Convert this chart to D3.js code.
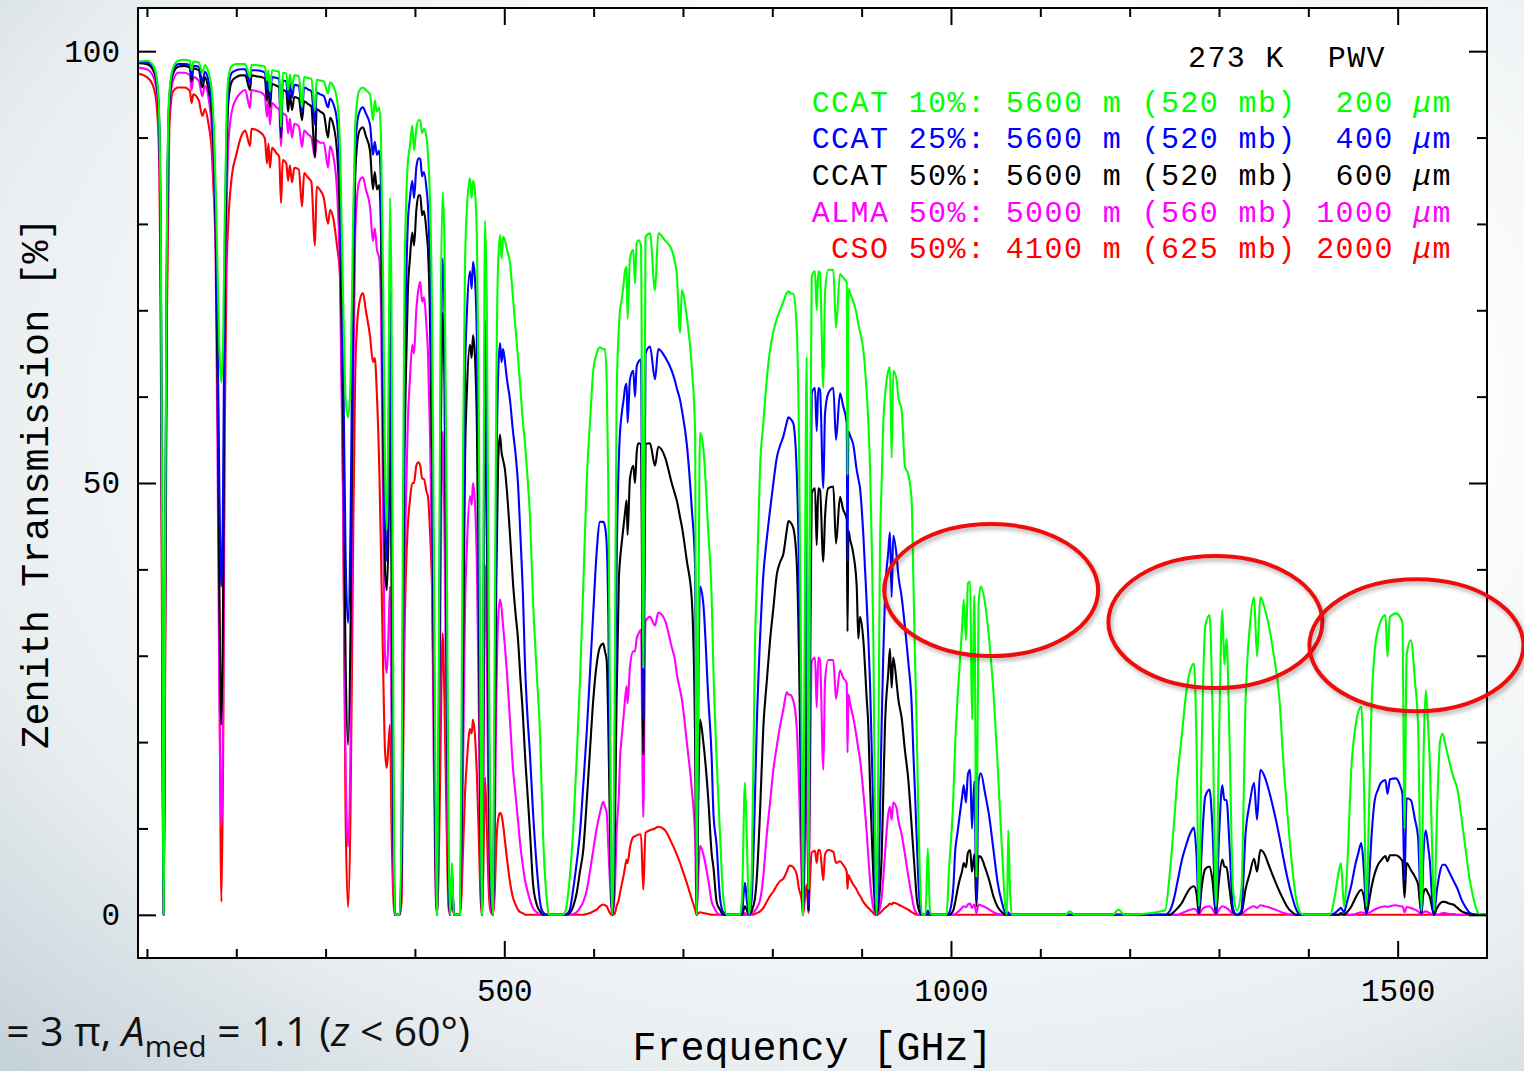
<!DOCTYPE html>
<html>
<head>
<meta charset="utf-8">
<script src="https://cdn.jsdelivr.net/npm/d3@7"></script>
<style>
  html, body { margin: 0; padding: 0; overflow: hidden; background: #fff; }
  svg { display: block; }
</style>
</head>
<body>
<svg id="chart" width="1524" height="1071"></svg>
<script>
// Frequency grid (GHz) shared by all five transmission curves
const freqGHz = [
  90, 100, 106, 110, 113, 115.5, 117, 118.75, 120.5, 122.5, 125, 129,
  135, 142, 148, 150, 152, 158, 162, 165, 169, 172.5, 175, 177, 179, 181, 183.3, 185.5, 187, 189, 191,
  195, 200, 205, 210, 215.4, 217, 222, 228, 232, 234.4, 236, 237.7, 240, 245, 248, 250.1, 252,
  256, 258, 260, 262.4, 265, 270, 273.6, 276, 280, 284, 288.1, 290, 294, 298, 302.7, 305, 308.3, 312.7,
  316.1, 319.5, 322.3, 325.15, 327.9, 330.7, 333, 335.1, 338, 341.8, 345, 349.7, 353, 355, 357.5,
  360, 362, 364.5, 366.5, 368.5, 370.5, 372.1, 373.8, 375.8, 377.5, 383, 385,
  386.5, 388, 390, 392, 394.4, 397, 399, 401.5, 404, 406, 408, 410, 413, 414.6, 417, 419.1, 421, 423, 424.7,
  426.5, 428.5, 431, 433, 435.5, 437.5, 439.2, 441.5, 443.5, 450.4,
  452, 454, 456, 458.3, 461.6, 463.5, 465, 467, 469.4, 471.5, 473, 475, 476.5, 478.4, 480.5, 482.5, 484.5, 487.3,
  489.5, 491, 493, 495.2, 497, 498.6, 500.8, 503, 506.4, 509.7, 512.5, 515.3, 518, 520.9, 523.2, 525.4, 528.8, 532.1, 536.3, 540, 543.3, 547.8, 550,
  565, 568, 573, 577.2, 581, 584.7, 588.4, 592.2, 595.9, 599.6, 603.4, 607.1, 610.8, 612.7, 614.6, 616.4, 618.3, 620.7, 622,
  623.9, 625.7, 628.3, 629.5, 631.4, 634, 635.1, 637, 638, 640.7, 644.4, 646.3, 648.2, 650, 653, 655.6, 658.1, 663.1, 668.7, 672.4, 679.9, 687.4, 691.1, 693, 696.8, 698.7, 704.3, 709.9, 713.6, 715.3,
  717.4, 719.1, 722.8, 728.4, 732.2, 734, 737.7, 741.4, 745.1, 749.3, 764, 766.1, 769.4, 771.7, 774,
  777, 780.7, 782.6, 786.3, 790, 793.8, 797.5, 801.2, 805, 808.6, 812.4, 816.2, 818, 819.8, 823.5, 827.3, 829.9, 832.9, 834.3,
  836.6, 838.5, 840.5, 842.2, 844.1, 847.8, 849.7, 851.5, 853.4, 857.1, 859, 862.7, 868.3, 871.3, 875.8, 879.1, 883.3, 884.2, 885.2, 887, 890.7, 894.5, 896.3, 898.2, 901.9, 905.7, 907.5, 909.4, 911.3, 913.1, 915, 916.8,
  918.8, 920.5, 922.4, 924.2, 926.1, 929.8, 931.7, 933.6, 935.4, 939.2, 941, 944.8, 948.5, 952.2, 956, 957.8, 959.7, 961.6, 963.4, 965.3, 967.5, 971.5, 974, 976.5, 979,
  995, 997.7, 1002.5, 1004.8, 1007.3, 1009.6, 1012.3, 1014.3, 1016.8, 1019, 1021.5, 1023.5, 1026.2, 1028.5, 1030.9, 1033.4, 1038.1, 1042.8, 1047.6, 1052.3, 1057.1, 1060.8, 1062.7, 1064.1, 1066, 1068.3,
  1128, 1133, 1138.5, 1181, 1187.5, 1194, 1239.5,
  1245.1, 1249.2, 1253.9, 1258.6, 1263, 1268.1, 1272, 1274.8, 1277.6, 1280.4, 1284.6, 1289.5, 1292.7, 1296.6, 1300, 1303.7, 1306, 1308.4, 1311.8, 1315.7, 1320.1,
  1325.1, 1329.8, 1334.5, 1339.2, 1342.6, 1346.3, 1351.1, 1354.8, 1360.4, 1367.7, 1372.4, 1377.2, 1381.9, 1386.1, 1391.4, 1395,
  1424.2, 1429.4, 1434.1, 1436.5, 1439.9, 1443.3, 1448.3, 1453, 1455.6, 1459.3, 1462.3, 1465, 1467.9, 1470.7, 1474.4, 1478, 1481.4, 1486.3, 1488.6, 1491.4, 1498.1, 1502.6, 1505.3, 1507.7, 1510, 1514.7, 1519.4, 1522.8, 1526.6, 1528.9, 1531.4, 1534, 1536.2, 1538.5, 1540.7, 1544.1, 1547.4, 1550.3, 1552.7, 1557.5, 1562.2, 1567, 1571.7, 1576.5, 1579.9, 1583.6, 1587.8, 1592.2, 1600
];

// Zenith transmission [%] — CCAT 10% (200 um PWV)
const ccat10 = [
  98.8, 98.9, 98.5, 97.5, 94.5, 80, 45, 0, 45, 82, 95, 98,
  98.9, 99, 98.9, 97.8, 98.8, 98.7, 97.5, 98.4, 97.5, 95.5, 91, 84, 75, 66, 61.6, 68, 80, 92, 96.8,
  98.3, 98.5, 98.5, 98.5, 97, 98.4, 98.4, 98.3, 98.2, 96.6, 97.8, 95.3, 97.8, 97.7, 97.6, 91.2, 97.5,
  97.4, 95.5, 97.3, 95.8, 97.2, 97.1, 93.5, 97, 96.9, 96.8, 93.2, 96.7, 96.6, 96.5, 95.1, 96.4, 96, 94.5,
  89, 72, 60, 57.6, 62, 80, 91, 94, 95.5, 95.8, 95.5, 95, 92, 94.3, 93,
  93.5, 90, 72, 52, 44.6, 62, 83, 70, 25, 0, 0, 12,
  45, 70, 82, 87, 89, 91.4, 88.5, 91, 92, 92, 90.5, 91, 90, 88, 82, 70, 45, 15, 0,
  25, 65, 83.7, 78, 45, 10, 0, 6, 0, 0,
  20, 55, 75, 82, 85.3, 83, 85, 84, 78, 58, 30, 0, 35, 80.4, 70, 35, 8, 0,
  35, 60, 75, 78.7, 76, 78.5, 78.1, 77, 75.5, 71.5, 68, 64.6, 61, 57, 54.6, 51.5, 46, 36.5, 28, 21, 9.5, 1.5, 0,
  0, 0.3, 4, 10, 18, 27, 38, 50, 57, 63, 65, 65.7, 65.5, 65.5, 62, 50, 25, 0, 5,
  30, 59.6, 68, 70, 71.2, 73.5, 74.6, 75, 69, 76, 77, 73.1, 77.8, 78.1, 77.5, 28.6, 78.5, 78.9, 72.3, 78.9, 78.1, 77, 75.5, 74.3, 67.4, 72.3, 69.2, 63.4, 55.8, 0,
  35, 55.8, 54, 44.2, 36.5, 28.7, 18, 9.5, 2, 0, 0, 2, 15.3, 8, 0,
  5, 31.8, 38, 51.8, 57, 62, 65.4, 67.5, 69, 70, 71, 72, 72.2, 72, 71.9, 67.9, 55, 20, 0,
  40, 64.6, 3, 45, 73.9, 74.5, 70, 74.5, 74.3, 61, 72, 74.7, 74.7, 68, 74.2, 73.8, 73.2, 50.9, 72.5, 72, 71, 69.5, 68.4, 67.5, 65.4, 60.4, 57, 51.8, 43, 31.8, 10, 0,
  20, 41.8, 50, 56.9, 60, 63, 63.4, 52.9, 63, 61.9, 60, 58.4, 51.9, 51, 47.9, 39.4, 30, 21.8, 12, 4.2, 0, 0, 7.7, 0.5, 0,
  0, 5, 13.3, 20, 25, 28.7, 33, 36.5, 31.8, 38.4, 38.6, 22.6, 37, 4.4, 36, 38, 36.1, 31.8, 25.7, 17.2, 7.5, 1, 0, 9.8, 3, 0,
  0, 0.4, 0, 0, 0.6, 0, 0.5,
  5, 10, 16.4, 21, 25.5, 28.4, 29.1, 20, 1, 18, 33.4, 34.7, 24, 1, 20, 35.3, 29, 32, 20, 3, 0.5,
  3, 24.9, 33.4, 36.8, 29.9, 36.8, 35.5, 34, 30.7, 24.9, 17.2, 11, 5.6, 2, 0.2, 0,
  0, 2, 5, 6, 1, 5, 17.2, 22, 23.4, 24.1, 15, 1, 12, 24, 30.7, 33, 34.1, 34.7, 29.9, 34.5, 34.9, 34.5, 33.8, 10, 30, 31.8, 27, 22, 0.5, 18, 26, 22, 17, 8, 0.5, 12, 20, 21, 20, 17.9, 16, 14.5, 11, 7.2, 4.5, 2.5, 0.8, 0, 0
];

// CCAT 25% (400 um PWV)
const ccat25 = [
  98.7, 98.7, 98.3, 97.2, 94, 78, 42, 0, 42, 80, 94.5, 97.7,
  98.5, 98.5, 98.4, 97, 98.3, 98.2, 96.5, 97.6, 96.5, 94, 89, 81, 68, 50, 38, 52, 75, 89, 95.5,
  97.5, 97.8, 97.9, 97.9, 96.3, 97.8, 97.8, 97.7, 97.5, 95.5, 97.2, 94.5, 97, 96.9, 96.8, 90.5, 96.6,
  96.5, 94.5, 96.3, 94.6, 96.1, 96, 93, 95.8, 95.6, 95.4, 91.5, 95.2, 95, 94.8, 93.5, 94.5, 94, 92,
  85, 66, 42, 33.8, 45, 74, 88, 91.5, 93, 93.5, 92.8, 91.5, 88, 89.5, 88,
  88.5, 84, 62, 46, 41, 52, 72, 50, 15, 0, 0, 8,
  35, 58, 72, 80, 83, 85, 83, 86.5, 87.6, 87.5, 85.5, 86, 84, 82, 74, 60, 35, 10, 0,
  20, 55, 76, 70, 35, 6, 0, 5, 0, 0,
  12, 40, 62, 70, 74.5, 72.5, 75.6, 74, 66, 45, 20, 0, 28, 68.9, 55, 25, 5, 0,
  25, 48, 62, 66.2, 64, 65.5, 64, 62, 59.6, 56, 53.5, 50, 44, 37, 29, 24, 18.5, 12, 5.6, 1.5, 0.3, 0, 0,
  0, 0, 0.5, 3, 6, 9.5, 15, 21, 28, 35, 42, 45.5, 45.5, 45, 43, 35, 15, 0, 2,
  22, 40, 53, 55.8, 58, 60, 61, 61.5, 57, 62, 63, 60, 63.5, 64, 64.3, 22.8, 65, 65.8, 62, 65.5, 64.6, 63, 61.8, 61, 59.6, 58.5, 54.5, 47, 40.3, 0,
  28, 38, 36, 25, 18, 12, 8, 2, 0.3, 0, 0, 0.3, 3.7, 1.5, 0,
  2, 14, 21.8, 32, 39.4, 43.5, 46.9, 50, 52.9, 54.3, 55.4, 57, 57.6, 57.5, 56.9, 51.4, 40, 12, 0,
  25, 45, 1, 35, 60.4, 61, 56, 61, 60.8, 49.4, 58, 60.4, 61, 55, 60.4, 59, 56.9, 40.9, 56, 55.5, 54.4, 51.5, 50.5, 49.4, 44, 36, 32, 26.8, 19, 11.7, 3, 0,
  3, 11.7, 22, 30, 36.8, 42, 44.3, 36.8, 43.9, 41.5, 39.4, 36.8, 33.3, 29.3, 24.3, 19, 14.2, 9, 4.2, 1, 0, 0, 0.5, 0, 0,
  0, 0.2, 3, 7.5, 9.5, 11.4, 13.5, 15, 13, 16.3, 16.8, 10, 15.5, 1.7, 15.5, 16.4, 14.1, 11.4, 7.5, 3.7, 1.4, 0.2, 0, 0.3, 0, 0,
  0, 0, 0, 0, 0, 0, 0,
  0.5, 1.7, 4, 6.4, 8, 9.5, 10.1, 7, 0.3, 7, 13.7, 14.5, 10, 0.3, 9, 15, 13.3, 13.3, 8, 0.7, 0,
  0.5, 9.5, 13, 15.3, 11, 16.8, 16, 14.8, 12.5, 9, 6.4, 4, 2.1, 0.7, 0, 0,
  0, 0.2, 0.6, 0.8, 0.3, 1.5, 3.5, 6, 7, 8.3, 5, 0.3, 4, 9, 13.3, 14.5, 15.3, 15.6, 14, 15.7, 15.8, 15, 14, 4, 13.5, 13.3, 11, 9, 0.2, 7, 9.8, 8, 6, 2, 0.2, 3, 5, 5.8, 5.8, 5, 4, 3, 1.7, 0.8, 0.3, 0.1, 0, 0, 0
];

// CCAT 50% (600 um PWV)
const ccat50 = [
  98.6, 98.5, 98.0, 96.8, 93.5, 76, 40, 0, 40, 78, 94, 97.3,
  98.2, 98.3, 98.1, 96.5, 98, 97.8, 95.8, 97, 95.5, 93, 87, 78.5, 62, 38, 22, 40, 70, 86, 94,
  96.5, 97, 97.2, 97.2, 95.5, 97.2, 97.1, 97, 96.8, 94.3, 96.4, 93.5, 96.2, 96, 95.8, 90, 95.5,
  95.3, 93, 95, 93.2, 94.7, 94.5, 92, 94.2, 93.9, 93.6, 87.7, 93.3, 93, 92.7, 90, 92.3, 91.6, 88.5,
  80, 58, 30, 19.7, 33, 68, 85, 89, 90.8, 91.2, 90.2, 88.5, 84, 86, 84,
  84.5, 79, 55, 40, 37.6, 45, 60, 38, 10, 0, 0, 5,
  28, 50, 63, 72, 76, 79, 77.5, 81.5, 83.3, 83.3, 81, 81.5, 79, 77, 68, 52, 28, 6, 0,
  15, 48, 69.7, 62, 28, 4, 0, 4.5, 0, 0,
  8, 30, 52, 61, 66, 64.5, 67.1, 65, 56, 35, 14, 0, 22, 58.8, 45, 18, 3, 0,
  18, 38, 52, 55.6, 53.5, 52.7, 51.5, 49, 44, 38.5, 35, 32, 27.5, 23, 18.5, 15, 9.5, 3.7, 1.2, 0.4, 0, 0, 0,
  0, 0, 0.2, 1, 2.5, 5, 7.5, 13, 19, 24.9, 29, 31, 31.4, 30.5, 29.5, 22, 10, 0, 1,
  10, 25, 39, 41, 43, 45.5, 46.5, 48, 44, 50.5, 52, 50, 53.5, 54.6, 54.5, 18.6, 54.5, 54.6, 52, 54.2, 53, 50, 48.7, 48, 46, 45, 41, 36.5, 20, 0,
  15, 22.6, 20, 13.3, 7, 5.6, 1.5, 0.6, 0, 0, 0, 0, 1, 0.5, 0,
  0.5, 2, 4.2, 12, 21.8, 27, 31.8, 35.5, 39.4, 40.8, 41.8, 44.5, 45.6, 45.5, 44.8, 40.9, 30, 8, 0,
  15, 30, 0.5, 25, 48.8, 49.4, 42.8, 49.4, 49.2, 40.9, 46, 49.4, 49.6, 43, 48.4, 47, 45.8, 32.8, 44.5, 43.5, 41.8, 38, 32, 34.5, 31.8, 25, 21.8, 15, 9.3, 4.5, 1, 0,
  1, 3, 6.7, 14, 21.8, 28, 30.8, 26.3, 29.8, 26.8, 25, 22.8, 19, 15.7, 10.2, 7.5, 4.7, 2, 0.8, 0.2, 0, 0, 0.1, 0, 0,
  0, 0, 0.5, 1.5, 2.9, 4, 5, 6, 5.5, 7.2, 7.5, 5, 7, 1, 6.8, 6.7, 5.5, 4, 2.1, 0.9, 0.3, 0, 0, 0, 0, 0,
  0, 0, 0, 0, 0, 0, 0,
  0, 0.3, 0.8, 1.4, 2.3, 3.1, 3.3, 2.5, 0.1, 3, 5.3, 5.6, 4, 0.1, 4, 6.4, 5.6, 5.5, 3, 0.3, 0,
  0.2, 3, 4.8, 6.5, 5, 7.5, 7, 6, 4.5, 2.7, 1.7, 0.8, 0.3, 0, 0, 0,
  0, 0, 0, 0.2, 0, 0.3, 1, 2, 2.5, 2.9, 2, 0.1, 1.5, 3.2, 4.8, 5.8, 6.3, 6.8, 6.2, 6.9, 6.9, 6.6, 6.2, 2, 6, 5.2, 4.4, 3.5, 0.1, 2.5, 3, 2.5, 2, 0.8, 0, 0.8, 1.3, 1.5, 1.5, 1.3, 1.2, 0.8, 0.4, 0.2, 0.1, 0, 0, 0, 0
];

// ALMA 50% (1000 um PWV)
const alma50 = [
  98.1, 97.9, 97.3, 96.0, 92.5, 72, 36, 0, 36, 75, 93, 96.5,
  97.5, 97.5, 97.2, 95.5, 97, 96.6, 94.8, 96, 94.5, 91, 84, 75, 54, 26, 10.2, 28, 62, 80, 89,
  93, 94.5, 95.2, 95.5, 93.4, 95.5, 95.4, 95.2, 94.8, 92.4, 94.3, 91.5, 94, 93.5, 93.2, 89, 92.8,
  92.5, 90.5, 92.2, 90, 91.6, 91.3, 88.9, 90.8, 90.4, 90, 87.7, 89.7, 89.4, 89.4, 86.5, 89, 88, 84,
  74, 48, 18, 7.9, 20, 58, 78, 83, 85, 85.4, 84, 82, 78, 79.5, 77,
  76, 70, 45, 30, 28, 33, 38, 22, 5, 0, 0, 3,
  20, 36, 48, 57, 62, 66, 65, 70, 72.5, 73.3, 71, 71.5, 68, 65, 55, 40, 18, 3, 0,
  10, 35, 56, 45, 18, 2, 0, 4, 0, 0,
  4, 18, 35, 43, 48.5, 47.5, 50, 48, 40, 24, 8, 0, 12, 40.5, 30, 10, 1, 0,
  10, 24, 34, 36.5, 35.5, 33.5, 31, 28, 22.5, 17, 14, 11, 8, 5.6, 4, 3, 1.7, 0.8, 0.3, 0, 0, 0, 0,
  0, 0, 0, 0.1, 0.3, 0.8, 1.5, 2.8, 5, 7.5, 10, 11.8, 13.1, 12.5, 11.8, 8, 3.7, 0, 0.5,
  3, 9.5, 14, 17.9, 20.5, 23.5, 24.9, 26.5, 24.5, 28.7, 30.5, 30.5, 32, 32.5, 33, 11.3, 34, 34.5, 33.5, 35, 34.1, 31, 29.5, 28, 26, 25, 20, 14.5, 9, 0,
  5, 8, 7, 4, 1.5, 1, 0.3, 0, 0, 0, 0, 0, 0.2, 0, 0,
  0.2, 0.5, 0.8, 1.7, 4.5, 9.3, 13, 16.8, 19.5, 21.8, 23.8, 25.8, 25.5, 25.5, 24.8, 21.8, 15, 4, 0,
  8, 20, 0.3, 15, 29.3, 29.8, 24, 29.8, 29.5, 16.8, 27, 29.5, 29.5, 25, 28.3, 27.5, 26.8, 18.8, 25.5, 24.5, 22.8, 20.5, 19.2, 18, 14.2, 9.5, 6.7, 4, 2, 0.8, 0.2, 0,
  0.3, 0.8, 2, 4.2, 7, 11.7, 12.5, 11, 13, 12.3, 11, 9.3, 7, 4.5, 2.2, 1.2, 0.5, 0.2, 0, 0, 0, 0, 0, 0, 0,
  0, 0, 0, 0.1, 0.3, 0.5, 0.8, 1, 0.9, 1.2, 1.3, 0.8, 1.2, 0.2, 1.2, 1.1, 0.9, 0.6, 0.3, 0.1, 0, 0, 0, 0, 0, 0,
  0, 0, 0, 0, 0, 0, 0,
  0, 0, 0, 0.2, 0.4, 0.6, 0.7, 0.5, 0, 0.5, 0.9, 1, 0.7, 0, 0.6, 1, 0.9, 0.8, 0.5, 0, 0,
  0, 0.5, 0.8, 1, 0.8, 1.1, 1, 0.9, 0.7, 0.4, 0.2, 0.1, 0, 0, 0, 0,
  0, 0, 0, 0, 0, 0, 0, 0.1, 0.2, 0.3, 0.2, 0, 0.2, 0.4, 0.6, 0.8, 0.9, 1, 0.9, 1, 1.1, 1, 1, 0.3, 0.9, 0.8, 0.6, 0.4, 0, 0.3, 0.4, 0.3, 0.2, 0, 0, 0, 0.1, 0.2, 0.2, 0.1, 0.1, 0, 0, 0, 0, 0, 0, 0, 0
];

// CSO 50% (2000 um PWV)
const cso50 = [
  97.4, 97.0, 96.2, 94.5, 90, 66, 30, 0, 30, 70, 91, 95.3,
  95.8, 95.8, 95.4, 94, 95, 94.3, 92.5, 93.3, 91.5, 88.5, 83, 79, 68, 35, 1.5, 22, 55, 74, 80,
  85.5, 88, 90, 90.8, 89, 91, 90.9, 90.5, 89.9, 87, 89.3, 86.5, 88.8, 88.2, 87.8, 82.4, 87.4,
  87, 85, 86.8, 84.8, 86.5, 86.3, 82, 85.9, 85.4, 84.9, 77.5, 84.3, 83.9, 83, 80, 81.6, 80.8, 77.5,
  74, 50, 12, 0.9, 12, 42, 62, 68, 71, 72, 70, 67, 64, 64.5, 60,
  52, 42, 28, 19, 17, 20, 22, 10, 2, 0, 0, 1.5,
  15, 30, 40, 45, 48, 50, 50, 52, 52.4, 52, 50.5, 50.5, 49, 48.4, 44, 38, 25, 8, 0,
  5, 18, 32.6, 25, 10, 1, 0, 3.2, 0, 0,
  2, 8, 14, 18, 21.5, 21, 22.6, 21, 16, 9, 3, 0, 5, 15.9, 10, 3, 0.5, 0,
  3, 8, 11, 11.8, 11.5, 10.5, 8.5, 6.5, 3.8, 2, 1.2, 0.6, 0.3, 0.2, 0, 0, 0, 0, 0, 0, 0, 0, 0,
  0, 0, 0, 0, 0, 0, 0, 0.1, 0.2, 0.4, 0.6, 1, 1.2, 1.1, 1, 0.6, 0.2, 0, 0,
  0.2, 1, 1.8, 2.5, 3.5, 4.8, 5.5, 6.4, 6, 7.8, 9, 9.1, 9.2, 9.3, 9.3, 2.9, 9.5, 9.8, 10, 10.2, 9.8, 8.3, 7.5, 7, 6, 5.4, 3.7, 1.8, 0.6, 0,
  0.2, 0.3, 0.2, 0.1, 0, 0, 0, 0, 0, 0, 0, 0, 0, 0, 0,
  0, 0.1, 0.2, 0.4, 0.8, 1.5, 2.2, 2.7, 3.4, 3.9, 4.2, 5, 5.5, 5.7, 5.5, 4.7, 3, 1.7, 0,
  2, 3.5, 0.2, 4, 7.2, 7.4, 6, 7.5, 7.5, 4, 7, 7.5, 7.3, 6, 6.2, 5.8, 5, 3, 4.6, 4.2, 3.5, 2.9, 2.5, 2.2, 1.5, 1, 0.8, 0.6, 0.4, 0.2, 0, 0,
  0.1, 0.2, 0.4, 0.6, 0.8, 1.1, 1.3, 1.2, 1.4, 1.3, 1.2, 1, 0.8, 0.6, 0.3, 0.2, 0.1, 0, 0, 0, 0, 0, 0, 0, 0,
  0, 0, 0, 0, 0, 0, 0, 0, 0, 0, 0, 0, 0, 0, 0, 0, 0, 0, 0, 0, 0, 0, 0, 0, 0, 0,
  0, 0, 0, 0, 0, 0, 0,
  0, 0, 0, 0, 0, 0, 0, 0, 0, 0, 0, 0, 0, 0, 0, 0, 0, 0, 0, 0, 0,
  0, 0, 0, 0, 0, 0, 0, 0, 0, 0, 0, 0, 0, 0, 0, 0,
  0, 0, 0, 0, 0, 0, 0, 0, 0, 0, 0, 0, 0, 0, 0, 0, 0, 0, 0, 0, 0, 0, 0, 0, 0, 0, 0, 0, 0, 0, 0, 0, 0, 0, 0, 0, 0, 0, 0, 0, 0, 0, 0, 0, 0, 0, 0, 0, 0
];

// Legend text and colours (drawn top to bottom)
const legendLabels = [
  "CCAT 10%: 5600 m (520 mb)  200",
  "CCAT 25%: 5600 m (520 mb)  400",
  "CCAT 50%: 5600 m (520 mb)  600",
  "ALMA 50%: 5000 m (560 mb) 1000",
  "CSO 50%: 4100 m (625 mb) 2000"
];
const legendColors = ["#00ff00", "#0000ff", "#000000", "#ff00ff", "#ff0000"];

// Axis ticks
const xTickLabels = [500, 1000, 1500];
const xMinorTicks = [100, 200, 300, 400, 600, 700, 800, 900, 1100, 1200, 1300, 1400];
const yTickLabels = [0, 50, 100];
const yMinorTicks = [10, 20, 30, 40, 60, 70, 80, 90];

// Highlighted high-frequency windows (centre frequency GHz, transmission %)
const highlightFreq = [1045, 1296, 1521];
const highlightPct = [37.6, 33.9, 31.2];

// ---------------------------------------------------------------------------
const W = 1524, H = 1071;
const frame = { left: 138, right: 1487, top: 8, bottom: 958 };
const mono = "'Liberation Mono', 'DejaVu Sans Mono', monospace";

const x = d3.scaleLinear().domain([90, 1600]).range([frame.left, frame.right]);
const y = d3.scaleLinear().domain([-5, 105]).range([frame.bottom, frame.top]);

const svg = d3.select("#chart");
const defs = svg.append("defs");

// slide background
const bg = defs.append("radialGradient").attr("id", "slideBg")
  .attr("cx", 0.6).attr("cy", 0.38).attr("r", 0.85);
[[0, "#ffffff"], [0.45, "#fbfcfc"], [0.75, "#e8edf0"], [1, "#c6d2d9"]]
  .forEach(([o, c]) => bg.append("stop").attr("offset", o).attr("stop-color", c));
svg.append("rect").attr("width", W).attr("height", H).attr("fill", "url(#slideBg)");

// plot panel
svg.append("rect")
  .attr("x", frame.left).attr("y", frame.top)
  .attr("width", frame.right - frame.left).attr("height", frame.bottom - frame.top)
  .attr("fill", "#ffffff");

defs.append("clipPath").attr("id", "plotClip").append("rect")
  .attr("x", frame.left).attr("y", frame.top)
  .attr("width", frame.right - frame.left).attr("height", frame.bottom - frame.top);

// transmission curves: wettest site first so the driest sits on top
const series = [
  { values: cso50, color: "#ff0000" },
  { values: alma50, color: "#ff00ff" },
  { values: ccat50, color: "#000000" },
  { values: ccat25, color: "#0000ff" },
  { values: ccat10, color: "#00ff00" }
];
const line = d3.line()
  .x(d => x(d[0]))
  .y(d => y(d[1]))
  .curve(d3.curveMonotoneX);

const curves = svg.append("g").attr("clip-path", "url(#plotClip)");
series.forEach(s => {
  curves.append("path")
    .datum(d3.zip(freqGHz, s.values))
    .attr("d", line)
    .attr("fill", "none")
    .attr("stroke", s.color)
    .attr("stroke-width", 2.1)
    .attr("stroke-linejoin", "round");
});

// axes (ticks point into the panel on all four sides)
function styleAxis(g) {
  g.select(".domain").remove();
  g.selectAll(".tick line").attr("stroke", "#000").attr("stroke-width", 2);
  g.selectAll(".tick text")
    .attr("fill", "#000")
    .style("font-family", mono)
    .style("font-size", "31px");
}
function addAxis(gen, tx, ty) {
  svg.append("g").attr("transform", `translate(${tx},${ty})`).call(gen).call(styleAxis);
}
addAxis(d3.axisBottom(x).tickValues(xTickLabels).tickSize(-17).tickPadding(21).tickFormat(d3.format("d")), 0, frame.bottom);
addAxis(d3.axisBottom(x).tickValues(xMinorTicks).tickSize(-9).tickFormat(""), 0, frame.bottom);
addAxis(d3.axisTop(x).tickValues(xTickLabels).tickSize(-17).tickFormat(""), 0, frame.top);
addAxis(d3.axisTop(x).tickValues(xMinorTicks).tickSize(-9).tickFormat(""), 0, frame.top);
addAxis(d3.axisLeft(y).tickValues(yTickLabels).tickSize(-18).tickPadding(18).tickFormat(d3.format("d")), frame.left, 0);
addAxis(d3.axisLeft(y).tickValues(yMinorTicks).tickSize(-10).tickFormat(""), frame.left, 0);
addAxis(d3.axisRight(y).tickValues(yTickLabels).tickSize(-18).tickFormat(""), frame.right, 0);
addAxis(d3.axisRight(y).tickValues(yMinorTicks).tickSize(-10).tickFormat(""), frame.right, 0);

svg.append("rect")
  .attr("x", frame.left).attr("y", frame.top)
  .attr("width", frame.right - frame.left).attr("height", frame.bottom - frame.top)
  .attr("fill", "none").attr("stroke", "#000").attr("stroke-width", 2);

// axis titles
svg.append("text")
  .attr("x", (frame.left + frame.right) / 2).attr("y", 1060)
  .attr("text-anchor", "middle")
  .style("font-family", mono).style("font-size", "40px")
  .text("Frequency [GHz]");
svg.append("text")
  .attr("transform", `translate(48,${(frame.top + frame.bottom) / 2}) rotate(-90)`)
  .attr("text-anchor", "middle")
  .style("font-family", mono).style("font-size", "38.5px")
  .text("Zenith Transmission [%]");

// legend
const legendRight = 1452;
const legendFont = { size: "30px", spacing: "1.4px" };
function legendText(px, py, anchor, color) {
  return svg.append("text")
    .attr("x", px).attr("y", py)
    .attr("text-anchor", anchor)
    .attr("xml:space", "preserve")
    .style("white-space", "pre")
    .style("font-family", mono)
    .style("font-size", legendFont.size)
    .style("letter-spacing", legendFont.spacing)
    .attr("fill", color);
}
legendText(1285, 67, "end", "#000").text("273 K");
legendText(1386, 67, "end", "#000").text("PWV");
legendLabels.forEach((label, i) => {
  const t = legendText(legendRight, 111.7 + i * 36.65, "end", legendColors[i]);
  t.append("tspan").text(label + " ");
  t.append("tspan").style("font-style", "italic").text("\u03bc");
  t.append("tspan").text("m");
});

// highlighted windows
const glow = defs.append("filter").attr("id", "ringShadow")
  .attr("x", "-20%").attr("y", "-20%").attr("width", "140%").attr("height", "140%");
glow.append("feDropShadow").attr("dx", 2).attr("dy", 3).attr("stdDeviation", 2.2)
  .attr("flood-color", "#000").attr("flood-opacity", 0.3);
svg.append("g").selectAll("ellipse")
  .data(d3.zip(highlightFreq, highlightPct))
  .join("ellipse")
  .attr("cx", d => x(d[0]))
  .attr("cy", d => y(d[1]))
  .attr("rx", 107).attr("ry", 66)
  .attr("fill", "none")
  .attr("stroke", "#ee1111")
  .attr("stroke-width", 4)
  .attr("filter", "url(#ringShadow)");

// slide caption fragment
const cap = svg.append("text")
  .attr("x", 470).attr("y", 1046)
  .attr("text-anchor", "end")
  .attr("xml:space", "preserve")
  .style("white-space", "pre")
  .style("font-family", "'Open Sans', 'Noto Sans', sans-serif")
  .style("font-size", "40.8px")
  .attr("fill", "#111");
cap.append("tspan").text("= 3 \u03c0, ");
cap.append("tspan").style("font-style", "italic").text("A");
cap.append("tspan").attr("dy", 11).style("font-size", "29.5px").text("med");
cap.append("tspan").attr("dy", -11).text(" = 1.1 (");
cap.append("tspan").style("font-style", "italic").text("z");
cap.append("tspan").text(" < 60\u00b0)");
</script>
</body>
</html>
